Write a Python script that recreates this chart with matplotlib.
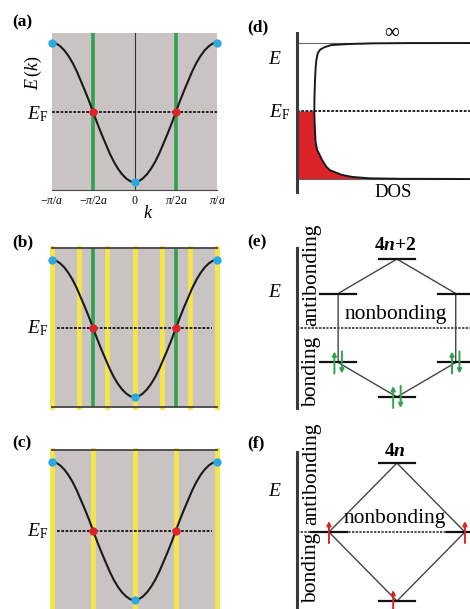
import numpy as np
import matplotlib
matplotlib.use('Agg')
import matplotlib.pyplot as plt

plt.rcParams['font.family'] = ['Liberation Serif', 'DejaVu Serif']
plt.rcParams['mathtext.fontset'] = 'custom'
plt.rcParams['mathtext.rm'] = 'Liberation Serif'
plt.rcParams['mathtext.it'] = 'Liberation Serif:italic'
plt.rcParams['mathtext.bf'] = 'Liberation Serif:bold'
plt.rcParams['mathtext.bfit'] = 'Liberation Serif:italic:bold'

# ---------------- data ----------------
# band E(k), k in units of pi/a
k_band = [-1.0, -0.95, -0.9, -0.85, -0.8, -0.75, -0.7, -0.65, -0.6, -0.55, -0.5,
          -0.45, -0.4, -0.35, -0.3, -0.25, -0.2, -0.15, -0.1, -0.05, 0.0,
          0.05, 0.1, 0.15, 0.2, 0.25, 0.3, 0.35, 0.4, 0.45, 0.5,
          0.55, 0.6, 0.65, 0.7, 0.75, 0.8, 0.85, 0.9, 0.95, 1.0]
E_band = [1.0, 0.99, 0.95, 0.89, 0.81, 0.71, 0.59, 0.45, 0.31, 0.16, 0.0,
          -0.16, -0.31, -0.45, -0.59, -0.71, -0.81, -0.89, -0.95, -0.99, -1.0,
          -0.99, -0.95, -0.89, -0.81, -0.71, -0.59, -0.45, -0.31, -0.16, 0.0,
          0.16, 0.31, 0.45, 0.59, 0.71, 0.81, 0.89, 0.95, 0.99, 1.0]
EF = 0.0
cyan_k = [-1.0, 0.0, 1.0]
cyan_E = [1.0, -1.0, 1.0]
red_k = [-0.5, 0.5]
red_E = [0.0, 0.0]
green_k = [-0.5, 0.5]
yellow_k_b = [-1.0, -0.667, -0.333, 0.0, 0.333, 0.667, 1.0]
yellow_k_c = [-1.0, -0.5, 0.0, 0.5, 1.0]
tick_k = [-1.0, -0.5, 0.0, 0.5, 1.0]
tick_lbl = [r'$-\pi/a$', r'$-\pi/2a$', r'$0$', r'$\pi/2a$', r'$\pi/a$']

# density of states (E, DOS)
dos_E = [1.0, 0.999, 0.995, 0.985, 0.97, 0.94, 0.90, 0.85, 0.75, 0.65, 0.45, 0.2, 0.0,
         -0.2, -0.45, -0.57, -0.72, -0.82, -0.87, -0.91, -0.94, -0.97, -0.99, -0.997, -1.0]
dos_v = [10.0, 6.5, 4.4, 3.0, 2.0, 1.6, 1.33, 1.2, 1.12, 1.08, 1.04, 1.01, 1.0,
         1.02, 1.07, 1.16, 1.45, 1.7, 1.9, 2.3, 2.6, 3.2, 4.2, 6.0, 10.0]

# Frost diagrams: vertex positions and energies
hex_x = [0.0, -1.73, -1.73, 0.0, 1.73, 1.73]
hex_E = [2.0, 1.0, -1.0, -2.0, -1.0, 1.0]
hex_pairs = [(-1.73, -1.0), (1.73, -1.0), (0.0, -2.0)]
hex_single = []
sq_x = [0.0, -2.0, 0.0, 2.0]
sq_E = [2.0, 0.0, -2.0, 0.0]
sq_pairs = [(0.0, -2.0)]
sq_single = [(-2.0, 0.0), (2.0, 0.0)]

GRAY = '#c9c3c3'
YELLOW = '#f4e64a'
GREEN = '#2fa24e'
CYAN = '#2aa9e0'
RED = '#db2329'
DOT = (0, (1.4, 0.8))

W, H = 470, 609
fig = plt.figure(figsize=(4.7, 6.09), dpi=100)


def box(x0, y0, x1, y1):
    return [x0 / W, 1 - y1 / H, (x1 - x0) / W, (y1 - y0) / H]


def label(x, y, s, **kw):
    kw.setdefault('ha', 'center')
    kw.setdefault('va', 'center')
    fig.text(x / W, 1 - y / H, s, **kw)


# ---------------- band panels ----------------
def band_panel(rect, ylim, yellow, green, center, borders, ef_x):
    ax = fig.add_axes(rect)
    ax.set_facecolor(GRAY)
    ax.set_xlim(-1, 1)
    ax.set_ylim(*ylim)
    for s in ax.spines.values():
        s.set_visible(False)
    for s in borders:
        ax.spines[s].set_visible(True)
        ax.spines[s].set_color('#444444')
        ax.spines[s].set_linewidth(1.3)
    for k in yellow:
        ax.axvline(k, color=YELLOW, lw=3.5, clip_on=False, zorder=1)
    for k in green:
        ax.axvline(k, color=GREEN, lw=2.6, zorder=2)
    if center:
        ax.axvline(0, color='#333333', lw=0.8, zorder=2)
    ax.plot(k_band, E_band, color='#1a1a1a', lw=1.5, zorder=3)
    ax.plot(ef_x, [EF, EF], color='#222222', ls=DOT, lw=1.4, zorder=3)
    ax.plot(cyan_k, cyan_E, 'o', color=CYAN, ms=6, mec='none', clip_on=False, zorder=5)
    ax.plot(red_k, red_E, 'o', color=RED, ms=6, mec='none', zorder=5)
    ax.set_xticks([])
    ax.set_yticks([])
    return ax


axa = band_panel(box(52, 33, 217, 190), (-1.115, 1.14), [], green_k, True,
                 ['bottom'], [-1, 1])
axa.spines['bottom'].set_linewidth(0.8)
axa.set_xticks(tick_k)
axa.set_xticklabels(tick_lbl, fontsize=8.5)
axa.tick_params(axis='x', length=0, pad=3.5)

band_panel(box(52, 248, 217, 407), (-1.146, 1.175), yellow_k_b, green_k, False,
           ['top', 'bottom'], [-0.94, 0.94])
band_panel(box(52, 450, 217, 609), (-1.13, 1.174), yellow_k_c, [], False,
           ['top'], [-0.94, 0.94])

label(148, 213, r'$k$', fontsize=13)
label(33, 73, r'$E\,(k)$', fontsize=13, rotation=90)
for yy in (114, 328, 531):
    label(38, yy, r'$E_{\rm F}$', fontsize=14)
for yy, s in ((22, '(a)'), (242, '(b)'), (443, '(c)')):
    label(12, yy, s, fontsize=12.5, fontweight='bold', ha='left')

# ---------------- DOS panel ----------------
axd = fig.add_axes(box(297, 33, 470, 192))
axd.set_xlim(0, 10)
axd.set_ylim(-1.191, 1.147)
for s in ('top', 'right', 'bottom'):
    axd.spines[s].set_visible(False)
axd.spines['left'].set_linewidth(2.2)
axd.spines['left'].set_color('#3a3a3a')
axd.set_xticks([])
axd.set_yticks([])
axd.plot([0, 10], [1, 1], color='#666666', lw=0.8)
axd.plot([0, 10], [-1, -1], color='#666666', lw=0.8)
dE = np.array(dos_E)
dv = np.array(dos_v)
low = dE <= EF
axd.fill_betweenx(dE[low], 0, dv[low], color=RED, lw=0, zorder=1)
axd.plot(dos_v, dos_E, color='#1a1a1a', lw=1.4, zorder=3)
axd.plot([0, 10], [EF, EF], color='#222222', ls=DOT, lw=1.4, zorder=2)

label(392, 31, r'$\infty$', fontsize=15)
label(393, 192, 'DOS', fontsize=13.5)
label(275, 60, r'$E$', fontsize=14)
label(280, 112, r'$E_{\rm F}$', fontsize=14)

# ---------------- Frost diagrams ----------------
def arrow(ax, x, y, up, color):
    y0, y1 = (y - 0.32, y + 0.32) if up else (y + 0.32, y - 0.32)
    ax.annotate('', xy=(x, y1), xytext=(x, y0),
                arrowprops=dict(arrowstyle='-|>', color=color, lw=1.4,
                                mutation_scale=6, shrinkA=0, shrinkB=0),
                zorder=6)


def frost_panel(rect, ylim, vx, vE, pairs, singles, color):
    ax = fig.add_axes(rect)
    ax.set_xlim(-2.94, 2.15)
    ax.set_ylim(*ylim)
    for s in ('top', 'right', 'bottom'):
        ax.spines[s].set_visible(False)
    ax.spines['left'].set_linewidth(2.2)
    ax.spines['left'].set_color('#3a3a3a')
    ax.set_xticks([])
    ax.set_yticks([])
    ax.plot(vx + vx[:1], vE + vE[:1], color='#444444', lw=1.0, zorder=2)
    for x, e in zip(vx, vE):
        ax.plot([x - 0.52, x + 0.52], [e, e], color='#111111', lw=1.6, zorder=3)
    ax.axhline(0, color='#333333', ls=DOT, lw=1.2, zorder=1)
    for x, e in pairs:
        arrow(ax, x - 0.11, e, True, color)
        arrow(ax, x + 0.11, e, False, color)
    for x, e in singles:
        arrow(ax, x, e, True, color)
    return ax


frost_panel(box(297, 248, 470, 408), (-2.32, 2.32), hex_x, hex_E, hex_pairs,
            hex_single, GREEN)
frost_panel(box(297, 452, 470, 609), (-2.23, 2.32), sq_x, sq_E, sq_pairs,
            sq_single, RED)

label(395, 246, r'$\mathbf{4}\boldsymbol{n}\mathbf{+2}$', fontsize=14)
label(396, 315, 'nonbonding', fontsize=15.5)
label(312, 275, 'antibonding', fontsize=15.5, rotation=90)
label(312, 372, 'bonding', fontsize=15.5, rotation=90)
label(395, 451, r'$\mathbf{4}\boldsymbol{n}$', fontsize=14)
label(395, 518, 'nonbonding', fontsize=15.5)
label(312, 474, 'antibonding', fontsize=15.5, rotation=90)
label(312, 568, 'bonding', fontsize=15.5, rotation=90)
label(275, 292, r'$E$', fontsize=14)
label(275, 492, r'$E$', fontsize=14)
for yy, s in ((27, '(d)'), (242, '(e)'), (443, '(f)')):
    label(247, yy, s, fontsize=12.5, fontweight='bold', ha='left')

fig.savefig('out.png', dpi=100)
